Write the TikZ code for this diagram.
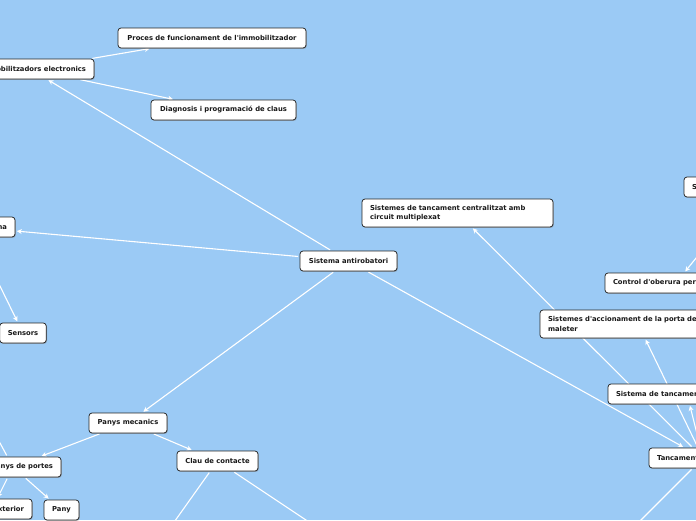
\documentclass[tikz,border=0pt]{standalone}
\usepackage{fontspec}
\setmainfont{DejaVu Sans}
\usetikzlibrary{shadows,arrows.meta}
\definecolor{bg}{RGB}{155,202,245}
\definecolor{ink}{RGB}{25,25,25}
\pgfdeclarelayer{bgl}
\pgfsetlayers{bgl,main}
\newcommand{\ap}{\textquotesingle}
\begin{document}
\begin{tikzpicture}[x=1pt,y=-1pt,
  box/.style={draw=black!85, fill=white, line width=0.75pt, rounded corners=3pt, text=ink,
    font=\fontsize{6.8}{9.5}\selectfont\bfseries, inner xsep=8pt, inner ysep=0pt,
    minimum height=20pt,
    drop shadow={shadow xshift=0.8pt, shadow yshift=-0.9pt, opacity=0.5}},
  link/.style={draw=white, line width=1.1pt, shorten <=1.5pt, shorten >=1.5pt,
    -{Stealth[length=5pt,width=5pt]}}]
\useasboundingbox (0,0) rectangle (696,520);
\begin{pgfonlayer}{bgl}
\fill[bg] (0,0) rectangle (696,520);
\end{pgfonlayer}
\clip (0,0) rectangle (696,520);

\node[box, minimum width=188pt] (proc) at (212,38) {Proces de funcionament de l\ap immobilitzador};
\node[box] (immob) at (30,69) {\makebox[112pt][r]{Immobilitzadors electronics}};
\node[box, minimum width=145pt] (diag) at (223.5,110) {Diagnosis i programació de claus};
\node[box, minimum width=97pt] (sa) at (348.5,261) {Sistema antirobatori};
\node[box] (alarm) at (-29,227) {\makebox[72pt][r]{Sistema d\ap alarma}};
\node[box, minimum width=46pt] (sensors) at (23,333) {Sensors};
\node[box, minimum height=28pt, text width=175pt, align=left] (central) at (457.5,213) {Sistemes de tancament centralitzat amb\\circuit multiplexat};
\node[box] (ss) at (753,187) {\makebox[122pt][l]{S}};
\node[box] (ctrl) at (676,283) {\makebox[126pt][l]{Control d\ap oberura per}};
\node[box, minimum height=28pt, text width=180pt, align=left] (accion) at (638,324) {Sistemes d\ap accionament de la porta de\\maleter};
\node[box] (stanc) at (687,394) {\makebox[142pt][l]{Sistema de tancament}};
\node[box] (tanc) at (703,458) {\makebox[92pt][l]{Tancament}};
\node[box, minimum width=78pt] (pm) at (128,423) {Panys mecanics};
\node[box] (pdp) at (13,467) {\makebox[80pt][r]{Panys de portes}};
\node[box] (ext) at (-8,509) {\makebox[64pt][r]{Exterior}};
\node[box, minimum width=35pt] (pany) at (61.5,510) {Pany};
\node[box, minimum width=81pt] (clau) at (217.5,461) {Clau de contacte};

\coordinate (c1) at (150,556);
\coordinate (c2) at (360,556);
\coordinate (c3) at (600,561);
\coordinate (c4) at (-13,419);

\begin{pgfonlayer}{bgl}
\clip (0,0) rectangle (696,520);
\draw[link] (immob) -- (proc);
\draw[link] (immob) -- (diag);
\draw[link] (sa) -- (immob);
\draw[link] (sa) -- (alarm);
\draw[link] (alarm) -- (sensors);
\draw[link] (sa) -- (pm);
\draw[link] (sa) -- (tanc);
\draw[link] (tanc) -- (central);
\draw[link] (tanc) -- (accion);
\draw[link] (tanc) -- (stanc);
\draw[link] (ss) -- (ctrl);
\draw[link] (pm) -- (pdp);
\draw[link] (pm) -- (clau);
\draw[link] (pdp) -- (pany);
\draw[link] (pdp) -- (ext);
\draw[link] (pdp) -- (c4);
\draw[link] (clau) -- (c1);
\draw[link] (clau) -- (c2);
\draw[link] (tanc) -- (c3);
\end{pgfonlayer}
\end{tikzpicture}
\end{document}
